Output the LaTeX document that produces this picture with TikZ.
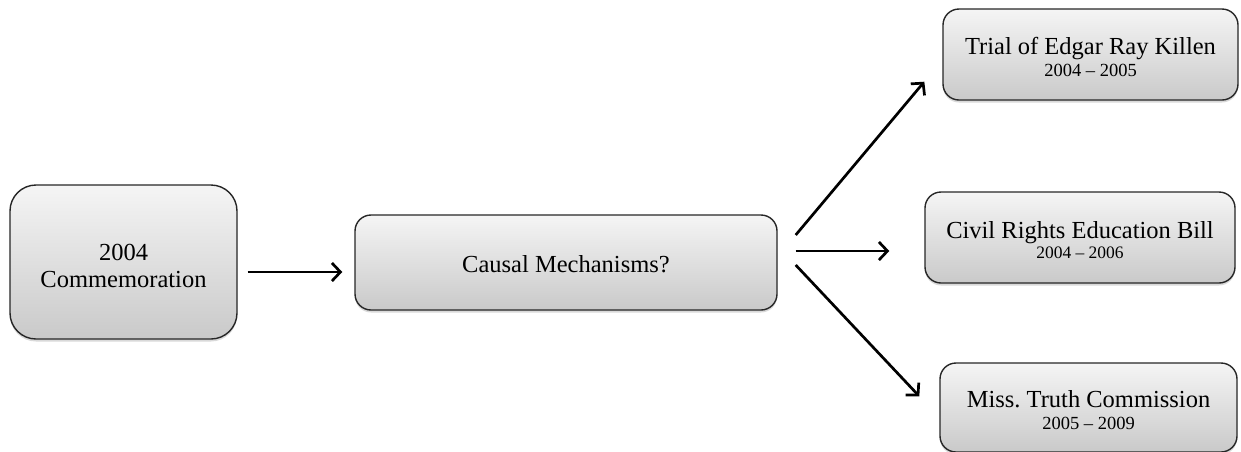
\documentclass[tikz,border=0pt]{standalone}
\usepackage{fontspec}
\setmainfont{Liberation Serif}
\usetikzlibrary{arrows.meta,shadows}
% invisible rule that gives the first line of a box some extra height
\newcommand{\toplift}[1]{\rule{0pt}{#1}}
\frenchspacing
\begin{document}
\begin{tikzpicture}[x=1pt,y=1pt,
  box/.style={draw=black!85, line width=1.4pt, rounded corners=16pt,
    top color=black!4, bottom color=black!21,
    drop shadow={shadow xshift=0pt,shadow yshift=-2.5pt,opacity=0.3},
    align=center, inner sep=0pt, font=\fontsize{24.5}{27}\selectfont},
  flow/.style={line width=2.7pt, -{Straight Barb[length=8.5pt,width=18pt,line width=2.7pt]}}]
\useasboundingbox (0,0) rectangle (1241,-451);

% boxes
\node[box, minimum width=227pt, minimum height=154pt, rounded corners=26pt]
  (comm) at (123.5,-262) {\toplift{25pt}2004\\Commemoration};
\node[box, minimum width=422pt, minimum height=95pt]
  (mech) at (566,-262.5) {\toplift{21pt}Causal Mechanisms?};
\node[box, minimum width=295pt, minimum height=91pt]
  (kill) at (1090.5,-54.5) {\toplift{23pt}Trial of Edgar Ray Killen\\[-5pt]{\fontsize{18.5}{21}\selectfont 2004 -- 2005}};
\node[box, minimum width=310pt, minimum height=91pt]
  (bill) at (1080,-237.5) {\toplift{23pt}Civil Rights Education Bill\\[-7pt]{\fontsize{17.5}{20}\selectfont 2004 -- 2006}};
\node[box, minimum width=297pt, minimum height=89pt]
  (truth) at (1088.5,-407.5) {\toplift{23pt}Miss.\ Truth Commission\\[-5pt]{\fontsize{18.5}{21}\selectfont 2005 -- 2009}};

% connectors
\draw[flow] ([shift={(10pt,-10pt)}]comm.east) -- ([shift={(-12pt,-9.5pt)}]mech.west);
\draw[flow] ([shift={(18pt,27.5pt)}]mech.east) -- ([shift={(-18pt,19pt)}]kill.south west);
\draw[flow] ([shift={(18pt,11.5pt)}]mech.east) -- ([shift={(-35pt,-13.5pt)}]bill.west);
\draw[flow] ([shift={(18pt,-2.5pt)}]mech.east) -- ([shift={(-20pt,-34pt)}]truth.north west);
\end{tikzpicture}
\end{document}
